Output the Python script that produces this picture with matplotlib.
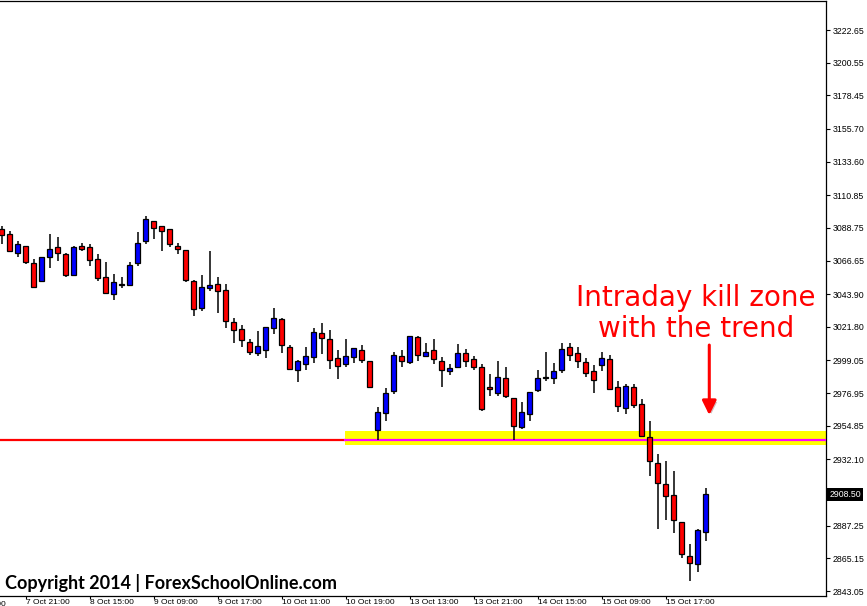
import matplotlib.pyplot as plt
import matplotlib.patheffects as pe

# candle data (hourly, oldest first)
opens = [3087.8, 3084.4, 3071.6, 3076.3, 3064.8, 3052.6, 3069.3, 3075.6, 3070.9, 3057.1,
         3076.3, 3075.6, 3067.5, 3055.3, 3043.8, 3050.4, 3049.9, 3064.8, 3079.7, 3093.2,
         3089.8, 3087.8, 3076.3, 3073.6, 3052.6, 3034.4, 3047.9, 3050.6, 3046.5, 3024.9,
         3020.2, 3011.4, 3003.9, 3005.9, 3020.8, 3026.9, 3008.0, 2992.4, 2996.5, 3001.2,
         3017.4, 3013.4, 3000.5, 2996.5, 3001.2, 3005.9, 2998.5, 2951.8, 2963.3, 2978.2,
         3001.9, 2997.8, 3014.7, 3001.9, 3005.9, 2998.5, 2991.7, 2994.4, 3003.9, 2999.9,
         2994.4, 2980.9, 2976.8, 2987.0, 2973.5, 2953.8, 2962.6, 2978.9, 2987.5, 2987.0,
         2992.4, 3008.0, 3003.9, 2997.8, 2991.7, 2995.8, 2999.9, 2980.9, 2966.7, 2980.9,
         2969.4, 2947.1, 2929.5, 2915.3, 2907.8, 2889.6, 2866.6, 2861.1, 2882.8]
highs = [3090.0, 3086.7, 3079.9, 3076.3, 3067.7, 3068.9, 3084.6, 3082.6, 3071.6, 3076.3,
         3078.5, 3077.9, 3070.9, 3065.5, 3057.4, 3055.3, 3065.7, 3086.0, 3096.8, 3093.2,
         3089.8, 3087.8, 3078.3, 3073.6, 3053.3, 3056.7, 3072.9, 3055.3, 3050.6, 3027.6,
         3022.9, 3013.4, 3018.8, 3021.5, 3034.4, 3027.6, 3009.3, 2999.2, 3008.0, 3020.8,
         3024.2, 3019.5, 3005.9, 3013.4, 3007.3, 3009.3, 2998.5, 2967.4, 2980.2, 3004.6,
         3005.9, 3015.4, 3015.4, 3010.7, 3013.4, 3001.2, 2996.5, 3010.0, 3006.6, 3001.9,
         2996.5, 2989.7, 2998.5, 2994.4, 2973.5, 2970.8, 2977.5, 2992.4, 3004.6, 2997.1,
         3010.9, 3010.7, 3008.0, 3000.5, 2995.8, 3004.6, 3002.6, 2985.0, 2982.9, 2982.9,
         2972.8, 2957.9, 2935.6, 2930.8, 2924.1, 2889.6, 2874.7, 2884.8, 2912.6]
lows = [3077.7, 3072.5, 3069.3, 3064.3, 3048.6, 3052.6, 3061.4, 3066.6, 3055.3, 3057.1,
        3072.9, 3062.8, 3052.6, 3044.5, 3040.2, 3047.9, 3049.9, 3063.2, 3078.1, 3081.5,
        3072.9, 3075.6, 3071.3, 3052.0, 3028.9, 3032.3, 3045.9, 3031.0, 3020.8, 3010.7,
        3008.0, 3002.6, 3001.9, 3000.5, 3016.8, 3003.9, 2992.4, 2984.3, 2992.4, 2997.1,
        3003.2, 2993.1, 2986.3, 2994.4, 2997.1, 2997.1, 2980.9, 2945.0, 2957.9, 2976.2,
        2994.4, 2996.5, 2998.5, 3001.9, 2996.5, 2980.9, 2989.0, 2994.4, 2994.4, 2992.4,
        2964.7, 2974.8, 2974.8, 2973.5, 2945.0, 2952.5, 2957.9, 2977.5, 2985.0, 2982.9,
        2990.4, 2998.5, 2993.8, 2987.7, 2976.8, 2991.7, 2979.6, 2964.0, 2962.6, 2966.7,
        2947.1, 2920.7, 2884.8, 2890.9, 2882.1, 2865.2, 2849.6, 2855.7, 2876.7]
closes = [3083.8, 3072.9, 3077.7, 3065.5, 3048.6, 3068.9, 3074.5, 3071.6, 3056.7, 3075.6,
          3074.3, 3066.8, 3054.7, 3044.5, 3052.0, 3050.6, 3063.5, 3078.3, 3094.6, 3088.5,
          3086.5, 3077.7, 3074.3, 3053.3, 3033.7, 3048.6, 3049.9, 3045.9, 3025.6, 3019.5,
          3012.7, 3004.6, 3008.6, 3021.5, 3027.6, 3009.3, 2993.1, 2998.5, 3001.9, 3018.1,
          3014.1, 2999.2, 2995.1, 3001.9, 3007.3, 2999.2, 2980.9, 2964.0, 2976.8, 3002.6,
          2998.5, 3015.4, 3002.6, 3004.6, 2999.9, 2992.4, 2993.8, 3003.9, 2998.5, 2994.4,
          2966.0, 2979.6, 2987.7, 2974.8, 2954.5, 2964.0, 2977.5, 2987.0, 2987.7, 2991.7,
          3006.6, 3002.6, 2998.5, 2990.4, 2985.6, 3000.5, 2979.6, 2968.1, 2981.6, 2968.7,
          2947.8, 2930.8, 2916.0, 2907.2, 2890.9, 2867.9, 2861.8, 2884.2, 2908.5]

xtick_pos = [3, 11, 19, 27, 35, 43, 51, 59, 67, 75, 83]
xtick_labels = ['7 Oct 21:00', '8 Oct 15:00', '9 Oct 09:00', '9 Oct 17:00', '10 Oct 11:00',
                '10 Oct 19:00', '13 Oct 13:00', '13 Oct 21:00', '14 Oct 15:00',
                '15 Oct 09:00', '15 Oct 17:00']
ytick_vals = [3222.65, 3200.55, 3178.45, 3155.70, 3133.60, 3110.85, 3088.75, 3066.65,
              3043.90, 3021.80, 2999.05, 2976.95, 2954.85, 2932.10, 2887.25, 2865.15, 2843.05]

support = 2945.2          # red/magenta level
zone_low, zone_high = 2941.9, 2951.3
last_price = 2908.5

tick_font = 'Liberation Sans'

fig = plt.figure(figsize=(8.67, 6.06), dpi=100)
ax = fig.add_axes([0, 10 / 606, 826 / 867, 595 / 606])

x = list(range(len(opens)))
colors = ['#0000ff' if c > o else '#ff0000' for o, c in zip(opens, closes)]
bottoms = [min(o, c) for o, c in zip(opens, closes)]
heights = [max(abs(c - o), 0.3) for o, c in zip(opens, closes)]

# zone + lines behind the candles
ax.axhline(support, color='#ff0000', lw=1.6, zorder=1)
ax.axhspan(zone_low, zone_high, xmin=345 / 826, xmax=1, color='#ffff00', lw=0, zorder=2)
ax.axhline(support, xmin=345 / 826, xmax=1, color='#ff00ff', lw=1.6, zorder=3)

ax.vlines(x, lows, highs, color='black', lw=1.1, zorder=4)
ax.bar(x, heights, bottom=bottoms, width=0.55, color=colors, edgecolor='black',
       linewidth=0.9, zorder=5)

ax.set_xlim(-0.21, 103.04)
ax.set_ylim(2839.7, 3242.3)

ax.spines['left'].set_visible(False)
for s in ['top', 'right', 'bottom']:
    ax.spines[s].set_linewidth(0.9)

ax.yaxis.tick_right()
ax.set_yticks(ytick_vals)
ax.set_yticklabels(['%.2f' % v for v in ytick_vals], family=tick_font)
ax.tick_params(axis='y', direction='out', length=3, width=0.8, labelsize=6.3, pad=2)
ax.set_xticks(xtick_pos)
ax.set_xticklabels(xtick_labels, ha='left', family=tick_font)
ax.tick_params(axis='x', direction='out', length=2, width=0.8, labelsize=6, pad=0)
ax.text(-5, -0.008, '7 Oct 13:00', transform=ax.get_xaxis_transform(), fontsize=6,
        family=tick_font, ha='left', va='top', clip_on=False)

ax.text(1.004, last_price, '%.2f' % last_price, transform=ax.get_yaxis_transform(),
        color='white', fontsize=6.3, family=tick_font, va='center', ha='left',
        bbox=dict(boxstyle='square,pad=0.25', fc='black', ec='none'))

# annotation
fig.text(696 / 867, 1 - 306 / 606, 'Intraday kill zone', color='#ff0000', fontsize=20,
         ha='center', va='baseline')
fig.text(696 / 867, 1 - 337 / 606, 'with the trend', color='#ff0000', fontsize=20,
         ha='center', va='baseline')
arr = ax.annotate('', xy=(88.45, 2962.1), xytext=(88.45, 3009.5),
                  arrowprops=dict(arrowstyle='-|>,head_length=0.85,head_width=0.42',
                                  color='#ff0000', lw=2.2, shrinkA=0, shrinkB=0))
arr.arrow_patch.set_path_effects([pe.withSimplePatchShadow(offset=(1.5, -1.5), alpha=0.25)])

fig.text(5 / 867, 1 - 583 / 606, 'Copyright 2014 | ForexSchoolOnline.com', fontsize=13,
         fontweight='bold', family='Lato', color='black', ha='left', va='center')

fig.savefig('out.png', dpi=100)
